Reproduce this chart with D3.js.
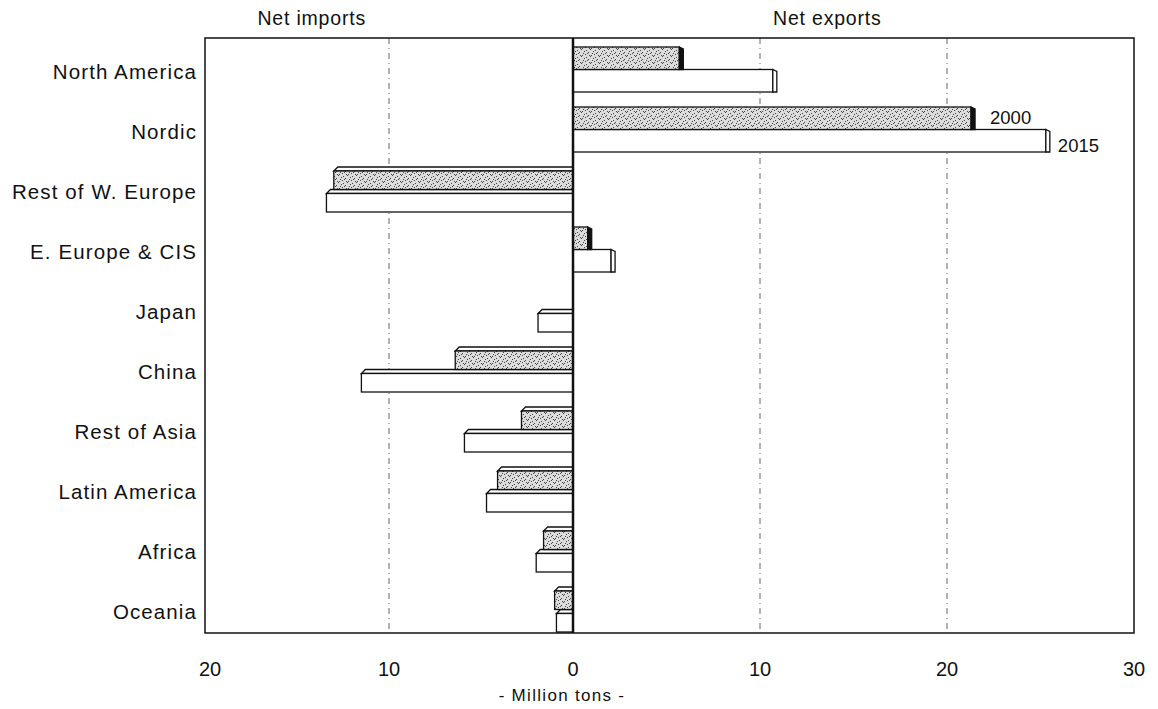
<!DOCTYPE html>
<html><head><meta charset="utf-8">
<script src="https://cdn.jsdelivr.net/npm/d3@7"></script>
<style>
body{margin:0;background:#fff;}
text{font-family:"Liberation Sans",Arial,Helvetica,sans-serif;fill:#111;}
</style></head>
<body>
<svg id="chart" width="1158" height="709"></svg>
<script>
const categories = ["North America","Nordic","Rest of W. Europe","E. Europe & CIS","Japan","China","Rest of Asia","Latin America","Africa","Oceania"];
const v2000 = [5.9, 21.5, -13.0, 1.0, 0, -6.4, -2.8, -4.1, -1.6, -1.0];
const v2015 = [10.9, 25.5, -13.4, 2.25, -1.9, -11.5, -5.9, -4.7, -2.0, -0.9];
const tickValues = [-20, -10, 0, 10, 20, 30];
const gridValues = [-10, 10, 20];
const seriesLabels = ["2000", "2015"];

const svg = d3.select("#chart");
const pLeft = 205, pRight = 1134, pTop = 38, pBottom = 633;

const x = d3.scaleLinear().domain([-20, 0, 30]).range([pLeft, 573, pRight]);
const y = d3.scaleBand().domain(categories).range([pTop, pTop + 600]);
const bw = y.bandwidth();

// stipple pattern
const defs = svg.append("defs");
const pat = defs.append("pattern").attr("id","stip").attr("patternUnits","userSpaceOnUse")
  .attr("width",9).attr("height",7);
pat.append("rect").attr("width",9).attr("height",7).attr("fill","#dcdcdc");
[[1,1],[5,0],[3,3],[7,4],[0,5],[4,6],[8,2],[6,6],[2,4]].forEach(([a,b])=>{
  pat.append("rect").attr("x",a).attr("y",b).attr("width",1).attr("height",1).attr("fill","#444");
});

// gridlines
svg.append("g").selectAll("line").data(gridValues).join("line")
  .attr("x1",d=>x(d)).attr("x2",d=>x(d)).attr("y1",pTop).attr("y2",pBottom)
  .attr("stroke","#666").attr("stroke-width",1).attr("stroke-dasharray","6,4,1,4");

// frame
svg.append("rect").attr("x",pLeft).attr("y",pTop).attr("width",pRight-pLeft).attr("height",pBottom-pTop)
  .attr("fill","none").attr("stroke","#111").attr("stroke-width",1.5);

// bars
const dep = 4;
function drawBar(g, v, y0, y1, fill, sideFill){
  if (v === 0) return;
  const x0 = x(0), xv = x(v);
  if (v > 0) {
    g.append("rect").attr("x",x0).attr("y",y0).attr("width",Math.max(0,xv-x0-dep)).attr("height",y1-y0)
      .attr("fill",fill).attr("stroke","#111").attr("stroke-width",1.3);
    g.append("path").attr("d",`M${xv-dep},${y0} L${xv},${y0+2} L${xv},${y1} L${xv-dep},${y1} Z`)
      .attr("fill",sideFill).attr("stroke","#111").attr("stroke-width",1.3);
  } else {
    g.append("path").attr("d",`M${xv+dep},${y0} L${x0},${y0} L${x0},${y0+dep} L${xv},${y0+dep} Z`)
      .attr("fill","#fff").attr("stroke","#111").attr("stroke-width",1.3);
    g.append("rect").attr("x",xv).attr("y",y0+dep).attr("width",x0-xv).attr("height",y1-y0-dep)
      .attr("fill",fill).attr("stroke","#111").attr("stroke-width",1.3);
  }
}
const gb = svg.append("g");
categories.forEach((c,i)=>{
  const b = y(c);
  drawBar(gb, v2015[i], b + bw*0.525, b + bw*0.90, "#fff", "#fff");
  drawBar(gb, v2000[i], b + bw*0.15, b + bw*0.525, "url(#stip)", "#111");
});

// zero line
svg.append("line").attr("x1",x(0)).attr("x2",x(0)).attr("y1",pTop).attr("y2",pBottom)
  .attr("stroke","#111").attr("stroke-width",2.5);

// category labels
svg.append("g").selectAll("text").data(categories).join("text")
  .attr("x",pLeft-8).attr("y",c=>y(c)+bw*0.57+7).attr("text-anchor","end")
  .attr("font-size",20.5).attr("letter-spacing","1.1px").text(c=>c);

// x tick labels
svg.append("g").selectAll("text").data(tickValues).join("text")
  .attr("x",d=>x(d)+(d===-20?5:0)).attr("y",676).attr("text-anchor","middle")
  .attr("font-size",20).text(d=>Math.abs(d));

// headers
svg.append("text").attr("x",x(-14.2)).attr("y",25).attr("text-anchor","middle")
  .attr("font-size",19.5).attr("letter-spacing","0.8px").text("Net imports");
svg.append("text").attr("x",x(13.6)).attr("y",25).attr("text-anchor","middle")
  .attr("font-size",19.5).attr("letter-spacing","0.8px").text("Net exports");
svg.append("text").attr("x",x(-0.6)).attr("y",701).attr("text-anchor","middle")
  .attr("font-size",17).attr("letter-spacing","1.3px").text("- Million tons -");

// series labels next to Nordic bars
const nb = y("Nordic");
svg.append("text").attr("x",x(v2000[1])+15).attr("y",nb+bw*0.34+6).attr("font-size",18.5).text(seriesLabels[0]);
svg.append("text").attr("x",x(v2015[1])+8).attr("y",nb+bw*0.80+6).attr("font-size",18.5).text(seriesLabels[1]);
</script>
</body></html>
